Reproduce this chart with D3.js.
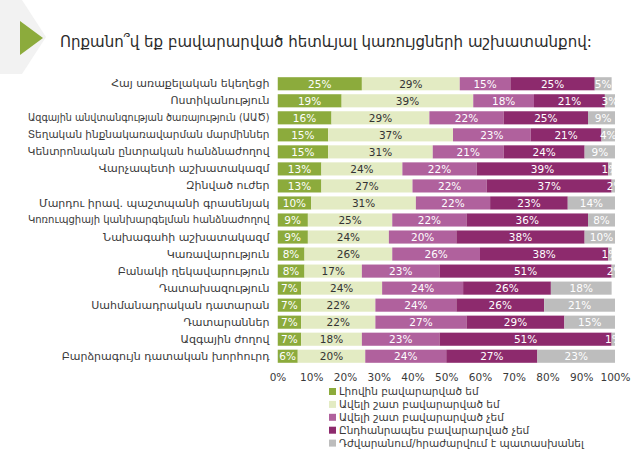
<!DOCTYPE html>
<html lang="hy">
<head>
<meta charset="UTF-8">
<title>Բավարարվածություն</title>
<style>
  body { margin: 0; background: #fff; }
  svg { display: block; font-family: "DejaVu Sans", sans-serif; }
</style>
</head>
<body>
<script src="https://d3js.org/d3.v7.min.js"></script>
<script>
// categories (top to bottom)
var institutions = [
  "Հայ առաքելական եկեղեցի",
  "Ոստիկանություն",
  "Ազգային անվտանգության ծառայություն (ԱԱԾ)",
  "Տեղական ինքնակառավարման մարմիններ",
  "Կենտրոնական ընտրական հանձնաժողով",
  "Վարչապետի աշխատակազմ",
  "Զինված ուժեր",
  "Մարդու իրավ. պաշտպանի գրասենյակ",
  "Կոռուպցիայի կանխարգելման հանձնաժողով",
  "Նախագահի աշխատակազմ",
  "Կառավարություն",
  "Բանակի ղեկավարություն",
  "Դատախազություն",
  "Սահմանադրական դատարան",
  "Դատարաններ",
  "Ազգային ժողով",
  "Բարձրագույն դատական խորհուրդ"
];

// series names (legend)
var answers = [
  "Լիովին բավարարված եմ",
  "Ավելի շատ բավարարված եմ",
  "Ավելի շատ բավարարված չեմ",
  "Ընդհանրապես բավարարված չեմ",
  "Դժվարանում/հրաժարվում է պատասխանել"
];

// series values, %, one per institution
var fully      = [25, 19, 16, 15, 15, 13, 13, 10,  9,  9,  8,  8,  7,  7,  7,  7,  6];
var rather     = [29, 39, 29, 37, 31, 24, 27, 31, 25, 24, 26, 17, 24, 22, 22, 18, 20];
var ratherNot  = [15, 18, 22, 23, 21, 22, 22, 22, 22, 20, 26, 23, 24, 24, 27, 23, 24];
var notAtAll   = [25, 21, 25, 21, 24, 39, 37, 23, 36, 38, 38, 51, 26, 26, 29, 51, 27];
var dontKnow   = [ 5,  3,  9,  4,  9,  1,  2, 14,  8, 10,  1,  2, 18, 21, 15,  1, 23];

var xTicks = [0, 10, 20, 30, 40, 50, 60, 70, 80, 90, 100];

var colors = ["#8cab3c", "#e3ebc3", "#b0619d", "#8d2a6d", "#bdbdbd"];
var labelColors = ["#fff", "#333", "#fff", "#fff", "#fff"];

var width = 640, height = 462;
var x0 = 277.5, x1 = 615;

// build rows for the stack
var series = [fully, rather, ratherNot, notAtAll, dontKnow];
var rows = institutions.map(function(name, i) {
  var r = { name: name };
  answers.forEach(function(a, k) { r[a] = series[k][i]; });
  return r;
});
var stacked = d3.stack().keys(answers)(rows);

var svg = d3.select("body").append("svg")
  .attr("width", width)
  .attr("height", height);

// faint background chevron and green triangle marker
svg.append("path")
  .attr("d", "M0,0 L22,0 L46,37 L22,74 L0,74 Z")
  .attr("fill", "#f2f2f2");
svg.append("path")
  .attr("d", "M20,21 L43,38 L20,55 Z")
  .attr("fill", "#8cab3c");

var title = svg.append("text")
  .attr("x", 60)
  .attr("y", 47)
  .attr("font-size", 17)
  .attr("fill", "#2b2b2b")
  .text("Որքանո՞վ եք բավարարված հետևյալ կառույցների աշխատանքով:");
// shrink the title so it ends where the reference one does
var tw = title.node().getComputedTextLength();
if (tw > 532) title.attr("font-size", 17 * 532 / tw);

var x = d3.scaleLinear().domain([0, 100]).range([x0, x1]);
var y = d3.scaleBand().domain(institutions).range([75.5, 364.5])
  .paddingInner(0.23).paddingOuter(0.1);

svg.append("defs").append("clipPath").attr("id", "plot")
  .append("rect")
  .attr("x", x0).attr("y", 60)
  .attr("width", x1 - x0).attr("height", 320);

var plot = svg.append("g").attr("clip-path", "url(#plot)");

var groups = plot.selectAll("g.series")
  .data(stacked)
  .enter()
  .append("g")
  .attr("class", "series");

groups.selectAll("rect")
  .data(function(d) { return d; })
  .enter()
  .append("rect")
  .attr("x", function(d) { return x(d[0]); })
  .attr("y", function(d) { return y(d.data.name); })
  .attr("width", function(d) { return x(d[1]) - x(d[0]); })
  .attr("height", y.bandwidth())
  .attr("fill", function(d) { return colors[d3.select(this.parentNode).datum().index]; });

groups.selectAll("text")
  .data(function(d) { return d; })
  .enter()
  .append("text")
  .attr("x", function(d) { return (x(d[0]) + x(d[1])) / 2; })
  .attr("y", function(d) { return y(d.data.name) + y.bandwidth() / 2; })
  .attr("dy", "0.36em")
  .attr("text-anchor", "middle")
  .attr("font-size", 10.5)
  .attr("fill", function(d) { return labelColors[d3.select(this.parentNode).datum().index]; })
  .text(function(d) { return (d[1] - d[0]) + "%"; });

// category labels
var yAxis = svg.append("g")
  .attr("transform", "translate(" + (x0 - 8) + ",0)")
  .call(d3.axisLeft(y).tickSize(0).tickPadding(0));
yAxis.select(".domain").remove();
yAxis.selectAll("text")
  .attr("font-family", "DejaVu Sans")
  .attr("font-size", 11)
  .attr("fill", "#3a3a3a")
  .each(function() {
    // shrink labels that would run past the left edge
    var w = this.getComputedTextLength();
    if (w > 242) d3.select(this).attr("font-size", 11 * 242 / w);
  });

// percentage axis
var xAxis = svg.append("g")
  .attr("transform", "translate(0,374)")
  .call(d3.axisBottom(x).tickValues(xTicks).tickSize(0).tickPadding(0)
    .tickFormat(function(d) { return d + "%"; }));
xAxis.select(".domain").remove();
xAxis.selectAll("text")
  .attr("font-family", "DejaVu Sans")
  .attr("font-size", 10.5)
  .attr("fill", "#3a3a3a");

// legend
var legend = svg.append("g").attr("transform", "translate(329,388)")
  .selectAll("g")
  .data(answers)
  .enter()
  .append("g")
  .attr("transform", function(d, i) { return "translate(0," + (i * 12.9) + ")"; });
legend.append("rect")
  .attr("width", 7).attr("height", 7)
  .attr("fill", function(d, i) { return colors[i]; });
legend.append("text")
  .attr("x", 10)
  .attr("y", 3.5)
  .attr("dy", "0.36em")
  .attr("font-size", 10.5)
  .attr("fill", "#3a3a3a")
  .text(function(d) { return d; });
</script>
</body>
</html>
